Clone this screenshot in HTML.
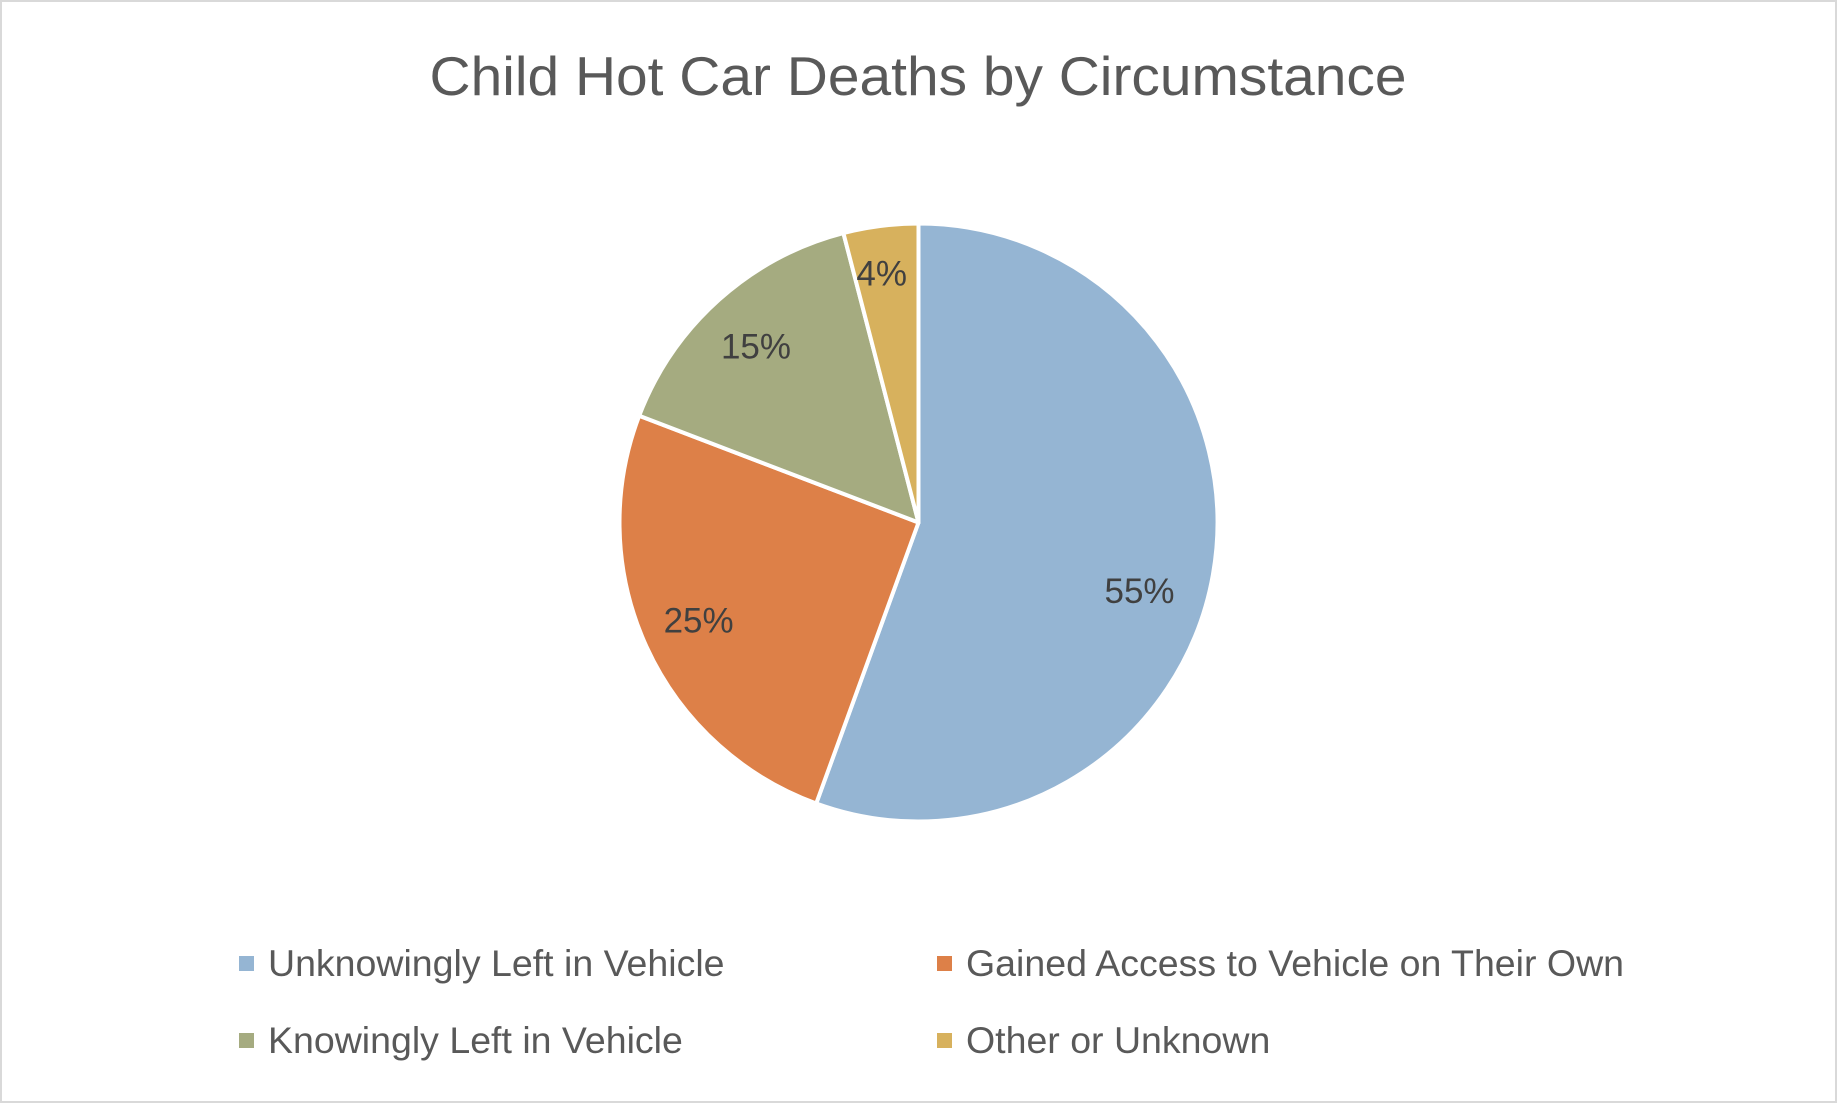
<!DOCTYPE html>
<html><head><meta charset="utf-8"><style>
html,body{margin:0;padding:0;background:#fff;}
svg{display:block;font-family:"Liberation Sans",Arial,sans-serif;}
</style></head><body>
<svg id="chart" width="1837" height="1103" viewBox="0 0 1837 1103">
<rect x="1" y="1" width="1835" height="1101" fill="#fff" stroke="#d9d9d9" stroke-width="2"/>
<text x="918" y="95" text-anchor="middle" font-size="55" textLength="977" lengthAdjust="spacingAndGlyphs" fill="#595959">Child Hot Car Deaths by Circumstance</text>
<g id="slices"></g>
<g id="labels"></g>
<g id="legend"></g>
</svg>
<script>
const categories = ["Unknowingly Left in Vehicle","Gained Access to Vehicle on Their Own","Knowingly Left in Vehicle","Other or Unknown"];
const values = [55,25,15,4];
const valueLabels = ["55%","25%","15%","4%"];
const colors = ["#95b5d3","#dd8048","#a5ab80","#d7b15d"];
const NS="http://www.w3.org/2000/svg";
const cx=918.5, cy=522.5, r=299;
const total=values.reduce((a,b)=>a+b,0);
const sg=document.getElementById('slices'), lg=document.getElementById('labels'), leg=document.getElementById('legend');
function pt(a,rad){return [cx+rad*Math.sin(a), cy-rad*Math.cos(a)];}
let start=0;
values.forEach((v,i)=>{
  const sweep=v/total*2*Math.PI, end=start+sweep;
  const [x1,y1]=pt(start,r),[x2,y2]=pt(end,r);
  const p=document.createElementNS(NS,'path');
  p.setAttribute('d',`M${cx},${cy} L${x1},${y1} A${r},${r} 0 ${sweep>Math.PI?1:0} 1 ${x2},${y2} Z`);
  p.setAttribute('fill',colors[i]);p.setAttribute('stroke','#fff');p.setAttribute('stroke-width','4');p.setAttribute('stroke-linejoin','round');
  
  
  sg.appendChild(p);
  const mid=(start+end)/2;
  const la = sweep>Math.PI ? mid+0.12 : mid;
  const [lx,ly]=pt(la,r*(v<8?0.84:0.79));
  const t=document.createElementNS(NS,'text');
  t.setAttribute('x',lx-5);t.setAttribute('y',ly+12);t.setAttribute('text-anchor','middle');t.setAttribute('font-size','35');t.setAttribute('fill','#404040');
  t.textContent=valueLabels[i];
  
  
  lg.appendChild(t);
  start=end;
});
categories.forEach((c,i)=>{
  const col=i%2,row=Math.floor(i/2);
  const mx=col?937:239, my=row?1040:963;
  const g=document.createElementNS(NS,'g');
  
  
  const m=document.createElementNS(NS,'rect');
  m.setAttribute('x',mx);m.setAttribute('y',my-7);m.setAttribute('width',15);m.setAttribute('height',15);m.setAttribute('fill',colors[i]);
  
  
  const t=document.createElementNS(NS,'text');
  t.setAttribute('x',mx+29);t.setAttribute('y',my+13);t.setAttribute('font-size','37.5');t.setAttribute('fill','#595959');
  t.textContent=c;
  
  
  g.appendChild(m);g.appendChild(t);leg.appendChild(g);
});
</script>
</body></html>
